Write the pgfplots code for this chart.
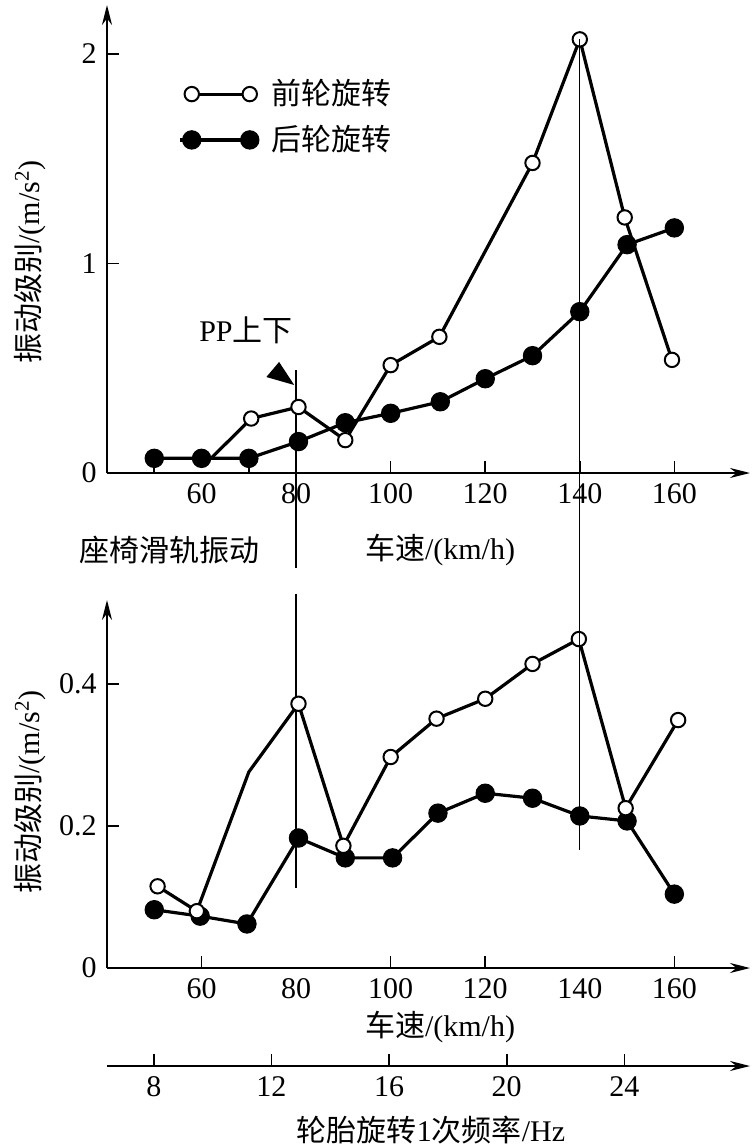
\documentclass[border=0pt]{standalone}
\usepackage{pgfplots}
\pgfplotsset{compat=1.18}
\usepackage{fontspec}
\setmainfont{Liberation Serif}
\newfontfamily\cjk{Noto Sans CJK SC}
\usetikzlibrary{arrows.meta}
\begin{document}
\fontsize{15pt}{18pt}\selectfont
\begin{tikzpicture}[font=\fontsize{15pt}{18pt}\selectfont]
\useasboundingbox (-53.5pt,-336.5pt) rectangle (324pt,236.5pt);
\pgfplotsset{
  base/.style={
    scale only axis, width=321.5pt, xmin=40, xmax=176,
    axis x line=bottom, axis y line=left,
    axis line style={line width=1pt},
    every outer x axis line/.append style={-{Stealth[length=10pt,width=5pt]}},
    every outer y axis line/.append style={-{Stealth[length=10pt,width=5pt]}},
    every inner x axis line/.append style={-{Stealth[length=10pt,width=5pt]}},
    every inner y axis line/.append style={-{Stealth[length=10pt,width=5pt]}},
    tick align=inside, major tick length=6pt,
    tick style={line width=0.8pt, black},
    /pgf/number format/assume math mode=true,
    clip=false,
    every tick label/.append style={font=\fontsize{15pt}{18pt}\selectfont},
    legend image code/.code={\draw[##1] plot coordinates {(0pt,0pt) (29pt,0pt)};},
  },
  rearleg/.style={legend image code/.code={\draw[black, line width=1.6pt] (-6pt,0pt) -- (0pt,0pt); \draw[##1] plot coordinates {(0pt,0pt) (29pt,0pt)};}},
  rear/.style={black, line width=1.6pt, mark=*, mark size=4.6pt, mark options={fill=black, line width=0.5pt}},
  front/.style={black, line width=1.6pt},
  frontm/.style={black, only marks, mark=*, mark size=3.6pt, mark options={fill=white, draw=black, line width=1pt}},
}
% ---------------- top panel ----------------
\begin{axis}[base, name=top, at={(0pt,0pt)}, anchor=south west,
  height=234pt, ymin=0, ymax=2.234, ytick={0,1,2},
  xtick={50,70,80,100,120,140,160}, xticklabels={,,80,100,120,140,160},
  extra x ticks={60}, extra x tick style={major tick length=0pt},
  legend style={at={(axis cs:53.7,1.92)}, anchor=north west, draw=none, fill=none,
    row sep=4pt, font=\fontsize{15pt}{18pt}\selectfont},
  legend cell align=left]
\addlegendimage{black, line width=1.6pt, mark=*, mark size=3.6pt, mark options={fill=white, draw=black, line width=1pt}}
\addlegendentry{\hspace{4.5pt}\cjk 前轮旋转}
\addlegendimage{rear, rearleg}
\addlegendentry{\hspace{4.5pt}\cjk 后轮旋转}
\addplot[rear, forget plot] coordinates {(50,0.07) (60,0.07) (70,0.07) (80.5,0.15) (90.4,0.24) (100,0.285) (110.5,0.34) (120,0.45) (130,0.56) (140,0.77) (150,1.09) (160,1.17)};
\addplot[front, forget plot] coordinates {(62,0.07) (70.5,0.26) (80.5,0.315) (90.4,0.157) (100,0.515) (110.3,0.65) (130,1.48) (140,2.07) (149.5,1.22) (159.5,0.54)};
\addplot[frontm, forget plot] coordinates {(70.5,0.26) (80.5,0.315) (90.4,0.157) (100,0.515) (110.3,0.65) (130,1.48) (140,2.07) (149.5,1.22) (159.5,0.54)};
\draw[line width=0.7pt] (axis cs:80,0.49) -- (axis cs:80,-0.453);
\fill (axis cs:73.7,0.458) -- (axis cs:76.4,0.53) -- (axis cs:79.6,0.42) -- cycle;
\node at (axis cs:69.4,0.683) {PP{\cjk 上下}};
\coordinate (t140) at (axis cs:140,2.07);
\end{axis}
% ---------------- bottom panel ----------------
\begin{axis}[base, name=bot, at={(0pt,-247.5pt)}, anchor=south west,
  height=184pt, ymin=0, ymax=0.518, ytick={0,0.2,0.4},
  yticklabel style={/pgf/number format/fixed, /pgf/number format/precision=1},
  xtick={60,100,120,160},
  extra x ticks={80,140}, extra x tick style={major tick length=0pt}]
\addplot[rear] coordinates {(50,0.082) (59.7,0.073) (69.6,0.062) (80.5,0.183) (90.4,0.155) (100.4,0.155) (110,0.218) (120,0.246) (130,0.239) (140,0.214) (150,0.207) (160,0.104)};
\addplot[front] coordinates {(50.7,0.115) (59,0.08) (70,0.276) (80.5,0.372) (90,0.172) (100,0.297) (109.7,0.351) (120,0.379) (130,0.428) (139.8,0.463) (149.7,0.225) (160.8,0.349)};
\addplot[frontm] coordinates {(50.7,0.115) (59,0.08) (80.5,0.372) (90,0.172) (100,0.297) (109.7,0.351) (120,0.379) (130,0.428) (139.8,0.463) (149.7,0.225) (160.8,0.349)};
\draw[line width=0.7pt] (axis cs:80,0.527) -- (axis cs:80,0.113);
\coordinate (b140) at (axis cs:140,0.166);
\end{axis}
% ---------------- frequency axis ----------------
\begin{axis}[base, at={(0pt,-296.5pt)}, anchor=south west,
  height=10pt, ymin=0, ymax=1, axis y line=none,
  xmin=6.41, xmax=28.27, xtick={8,12,16,20,24}]
\addplot[draw=none, forget plot] coordinates {(8,0) (24,0)};
\end{axis}
\draw[line width=0.7pt] (t140) -- (b140);
% labels
\node at (166.5pt,-38.5pt) {{\cjk 车速}/(km/h)};
\node at (31.5pt,-38.5pt) {\cjk 座椅滑轨振动};
\node at (166.5pt,-277pt) {{\cjk 车速}/(km/h)};
\node at (162pt,-328.5pt) {{\cjk 轮胎旋转}1{\cjk 次频率}/Hz};
\node[rotate=90] at (-38.5pt,105.5pt) {{\cjk 振动级别}/(m/s\textsuperscript{2})};
\node[rotate=90] at (-38.5pt,-159.5pt) {{\cjk 振动级别}/(m/s\textsuperscript{2})};
\end{tikzpicture}
\end{document}
